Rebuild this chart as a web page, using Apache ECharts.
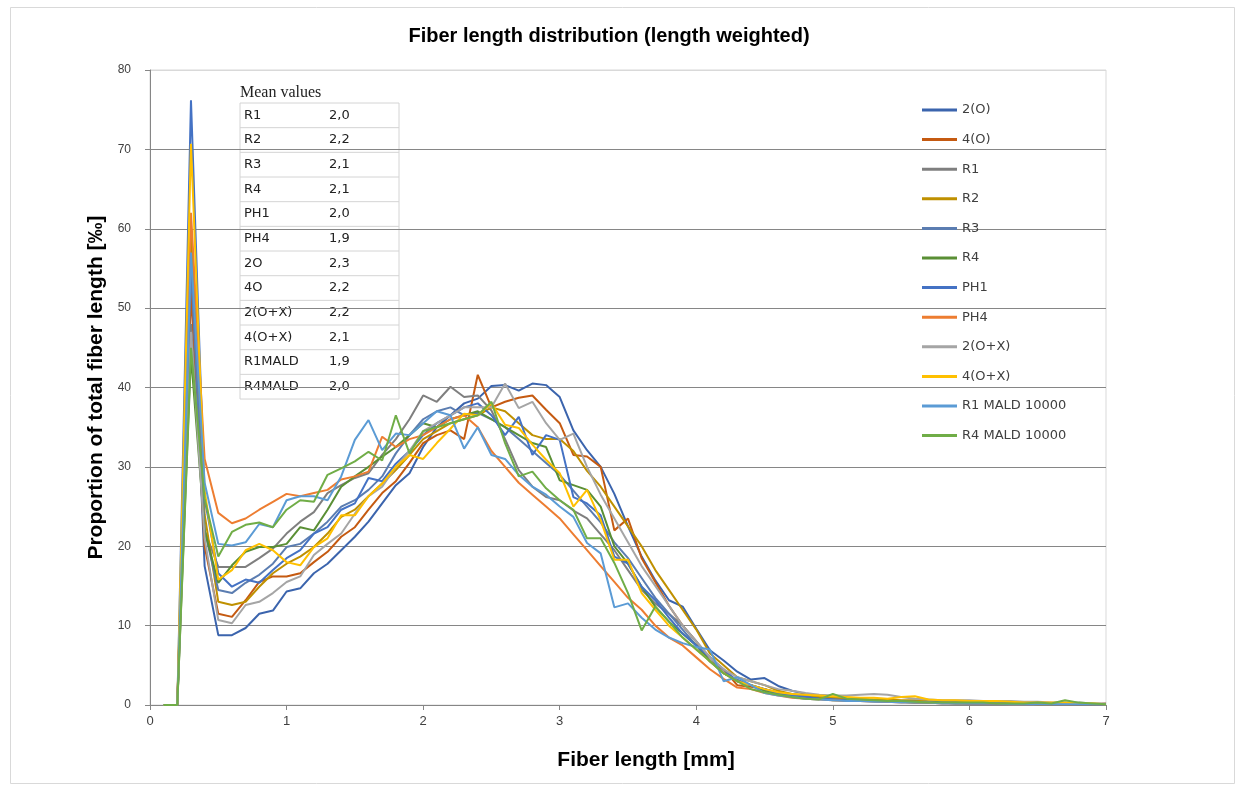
<!DOCTYPE html>
<html>
<head>
<meta charset="utf-8">
<script src="https://cdn.jsdelivr.net/npm/echarts@6/dist/echarts.min.js"></script>
<style>
  html, body { margin: 0; padding: 0; background: #fff; }
  #fiber_graph { width: 1241px; height: 787px; }
</style>
</head>
<body>
<div id="fiber_graph"></div>
<script>
// fiber length classes [mm]
const lengths = [
  0.1, 0.2, 0.3, 0.4, 0.5, 0.6, 0.7, 0.8, 0.9, 1.0,
  1.1, 1.2, 1.3, 1.4, 1.5, 1.6, 1.7, 1.8, 1.9, 2.0,
  2.1, 2.2, 2.3, 2.4, 2.5, 2.6, 2.7, 2.8, 2.9, 3.0,
  3.1, 3.2, 3.3, 3.4, 3.5, 3.6, 3.7, 3.8, 3.9, 4.0,
  4.1, 4.2, 4.3, 4.4, 4.5, 4.6, 4.7, 4.8, 4.9, 5.0,
  5.1, 5.2, 5.3, 5.4, 5.5, 5.6, 5.7, 5.8, 5.9, 6.0,
  6.1, 6.2, 6.3, 6.4, 6.5, 6.6, 6.7, 6.8, 6.9, 7.0
];

const s2O = [
  0, 0, 58, 17.5, 8.8, 8.8, 9.7, 11.5, 11.9, 14.3,
  14.7, 16.6, 17.8, 19.5, 21.2, 23.1, 25.4, 27.7, 29.2, 32.5,
  35.0, 36.5, 38.0, 38.6, 40.2, 40.3, 39.6, 40.5, 40.3, 38.8,
  34.6, 32.1, 30.0, 26.6, 22.5, 18.7, 15.7, 13.2, 12.4, 9.6,
  6.9, 5.6, 4.2, 3.2, 3.4, 2.4, 1.8, 1.4, 1.2, 1.0,
  0.8, 0.7, 0.6, 0.6, 0.5, 0.5, 0.4, 0.4, 0.4, 0.3,
  0.3, 0.3, 0.3, 0.2, 0.2, 0.2, 0.2, 0.1, 0.1, 0.1
];
const s4O = [
  0, 0, 52, 20, 11.5, 11.1, 13.2, 15.5, 16.2, 16.2,
  16.6, 18.0, 19.3, 21.2, 22.4, 24.6, 26.7, 28.2, 30.5, 33.0,
  34.0, 34.6, 33.5, 41.6, 37.5, 38.2, 38.7, 39.0, 37.2, 35.5,
  31.5, 31.3, 30.0, 22.0, 23.5, 18.5, 15.5, 12.5, 10.0, 8.0,
  5.5, 4.5, 2.5, 2.3, 2.0, 1.5, 1.2, 0.9, 0.8, 0.7,
  0.6, 0.5, 0.5, 0.4, 0.4, 0.3, 0.3, 0.3, 0.3, 0.2,
  0.2, 0.2, 0.2, 0.2, 0.1, 0.1, 0.1, 0.1, 0.1, 0.2
];
const sR1 = [
  0, 0, 48, 22, 17.4, 17.4, 17.4, 18.5, 19.7, 21.6,
  23.1, 24.3, 26.7, 27.7, 28.6, 29.2, 31.5, 33.5, 36.0, 39.0,
  38.2, 40.1, 38.8, 39.0, 37.1, 33.5, 29.6, 27.5, 26.2, 25.8,
  24.5, 23.5, 21.5, 19.5, 17.0, 14.5, 12.8, 11.5, 10.0, 8.0,
  6.0, 4.0, 3.0, 2.5, 2.0, 1.6, 1.3, 1.1, 0.9, 0.8,
  0.7, 0.7, 0.6, 0.6, 0.5, 0.5, 0.4, 0.4, 0.4, 0.3,
  0.3, 0.3, 0.3, 0.3, 0.2, 0.2, 0.2, 0.2, 0.1, 0.1
];
const sR2 = [
  0, 0, 60, 24, 13.0, 12.6, 13.0, 14.9, 16.6, 17.8,
  18.7, 19.9, 21.6, 23.7, 24.6, 26.3, 27.9, 29.6, 31.5, 33.5,
  34.5, 35.5, 36.0, 36.5, 37.5, 37.0, 35.5, 34.0, 33.5, 33.5,
  32.0, 29.5, 27.5, 25.0, 22.5, 20.0, 17.0, 14.5, 12.0, 9.5,
  6.5, 5.0, 3.5, 3.0, 2.5, 1.8, 1.4, 1.2, 1.0, 0.9,
  0.8, 0.8, 0.7, 0.7, 0.6, 0.6, 0.5, 0.5, 0.5, 0.4,
  0.4, 0.4, 0.3, 0.3, 0.3, 0.2, 0.2, 0.2, 0.2, 0.1
];
const sR3 = [
  0, 0, 55, 22, 14.5, 14.1, 15.4, 16.4, 17.8, 19.9,
  20.3, 21.6, 23.1, 25.0, 25.8, 27.1, 28.8, 31.7, 34.0, 36.0,
  37.0, 37.5, 36.5, 36.8, 36.0, 35.0, 33.5, 32.0, 30.5, 29.0,
  27.0, 25.0, 23.0, 20.5, 18.5, 16.0, 13.5, 11.5, 9.5, 7.5,
  5.5, 4.0, 3.2, 2.5, 2.0, 1.5, 1.2, 1.0, 0.8, 0.7,
  0.6, 0.5, 0.5, 0.4, 0.4, 0.3, 0.3, 0.3, 0.2, 0.2,
  0.2, 0.2, 0.2, 0.1, 0.1, 0.1, 0.1, 0.1, 0.1, 0.1
];
const sR4 = [
  0, 0, 44, 22, 15.4, 17.6, 19.3, 19.9, 19.9, 20.3,
  22.4, 22.0, 24.6, 27.5, 28.8, 30.0, 31.3, 32.5, 34.0, 35.5,
  35.0, 36.0, 36.5, 37.0, 36.0, 35.0, 34.0, 33.0, 32.5, 28.3,
  27.7, 27.1, 25.0, 20.0, 17.8, 14.9, 12.4, 10.5, 9.0, 7.5,
  5.5, 4.0, 3.0, 2.5, 1.8, 1.4, 1.1, 0.9, 0.8, 0.6,
  0.6, 0.5, 0.5, 0.4, 0.4, 0.3, 0.3, 0.3, 0.2, 0.2,
  0.2, 0.2, 0.2, 0.2, 0.1, 0.1, 0.1, 0.1, 0.1, 0.1
];
const sPH1 = [
  0, 0, 76.2, 26, 16.6, 14.9, 15.8, 15.4, 17.0, 18.5,
  19.5, 21.6, 22.4, 24.6, 25.4, 28.6, 28.2, 30.4, 32.0, 34.0,
  35.5, 36.5, 37.5, 38.0, 36.5, 34.0, 36.3, 31.5, 34.0, 33.4,
  26.2, 25.4, 23.9, 18.7, 17.8, 14.9, 13.2, 11.0, 9.0, 7.5,
  6.0, 4.5, 3.0, 2.5, 2.0, 1.5, 1.2, 1.0, 0.8, 0.7,
  0.6, 0.5, 0.5, 0.4, 0.4, 0.4, 0.3, 0.3, 0.3, 0.2,
  0.2, 0.2, 0.2, 0.2, 0.2, 0.1, 0.1, 0.1, 0.1, 0.1
];
const sPH4 = [
  0, 0, 62, 31, 24.2, 22.9, 23.5, 24.6, 25.6, 26.6,
  26.3, 26.7, 27.1, 28.4, 28.8, 29.4, 33.8, 32.5, 33.5, 34.0,
  35.0, 36.0, 36.5, 35.0, 32.0, 30.0, 28.0, 26.5, 25.0, 23.5,
  21.5, 19.5, 17.5, 15.5, 13.5, 12.0, 10.0, 8.5, 7.5, 6.0,
  4.5, 3.3, 2.2, 2.0, 1.5, 1.2, 0.9, 0.8, 0.7, 0.6,
  0.5, 0.5, 0.4, 0.4, 0.3, 0.3, 0.3, 0.2, 0.2, 0.2,
  0.2, 0.2, 0.1, 0.1, 0.1, 0.1, 0.1, 0.1, 0.1, 0.1
];
const s2OX = [
  0, 0, 47, 21, 10.7, 10.3, 12.6, 13.0, 14.1, 15.5,
  16.2, 18.9, 20.3, 21.6, 24.1, 26.3, 27.5, 30.0, 32.0, 34.5,
  35.5, 36.5, 37.5, 37.5, 37.5, 40.5, 37.4, 38.2, 35.5, 33.4,
  34.2, 30.0, 26.5, 23.5, 20.5, 17.5, 15.0, 12.5, 10.0, 8.0,
  6.0, 4.5, 3.5, 3.0, 2.5, 2.0, 1.8, 1.5, 1.3, 1.2,
  1.2, 1.3, 1.4, 1.3, 1.0, 0.8, 0.7, 0.6, 0.6, 0.6,
  0.5, 0.5, 0.5, 0.4, 0.4, 0.3, 0.3, 0.3, 0.2, 0.2
];
const s4OX = [
  0, 0, 70.7, 27, 15.8, 17.0, 19.5, 20.3, 19.5, 18.0,
  17.6, 19.9, 21.0, 23.9, 23.9, 26.3, 27.9, 30.0, 31.5, 31.0,
  33.0, 34.8, 36.7, 36.5, 38.0, 35.3, 34.9, 32.8, 30.9, 29.2,
  25.0, 27.1, 23.3, 18.3, 18.3, 14.1, 12.0, 10.0, 8.5, 7.0,
  5.5, 4.0, 3.0, 2.5, 2.0, 1.6, 1.4, 1.3, 1.2, 1.1,
  1.0, 0.9, 0.9, 0.8, 1.0, 1.1, 0.7, 0.6, 0.6, 0.5,
  0.5, 0.5, 0.4, 0.3, 0.3, 0.3, 0.3, 0.2, 0.2, 0.1
];
const sR1M = [
  0, 0, 57, 28, 20.3, 20.1, 20.5, 22.8, 22.4, 25.8,
  26.3, 26.3, 25.8, 28.8, 33.4, 35.9, 32.1, 34.2, 34.0, 35.5,
  37.0, 36.5, 32.3, 35.0, 31.5, 31.0, 29.0, 27.5, 26.5, 25.0,
  23.7, 20.4, 19.1, 12.3, 12.8, 11.0, 9.5, 8.5, 7.8, 7.3,
  7.0, 3.0, 3.5, 2.5, 1.5, 1.2, 1.0, 0.8, 0.7, 0.6,
  0.5, 0.5, 0.4, 0.4, 0.3, 0.3, 0.3, 0.2, 0.2, 0.2,
  0.2, 0.2, 0.1, 0.1, 0.1, 0.1, 0.1, 0.1, 0.1, 0.1
];
const sR4M = [
  0, 0, 45, 26, 18.7, 21.8, 22.7, 23.0, 22.4, 24.6,
  25.8, 25.6, 29.0, 29.8, 30.7, 31.9, 30.8, 36.5, 31.7, 34.5,
  35.0, 35.5, 36.0, 36.5, 38.2, 33.0, 28.8, 29.4, 27.3, 25.8,
  24.6, 21.0, 21.0, 17.9, 14.1, 9.4, 12.4, 10.5, 8.5, 7.0,
  5.5, 4.0, 3.0, 2.0, 1.6, 1.3, 1.0, 0.8, 0.7, 1.4,
  0.8, 0.7, 0.6, 0.5, 0.5, 0.4, 0.3, 0.3, 0.3, 0.3,
  0.3, 0.2, 0.2, 0.2, 0.3, 0.2, 0.6, 0.3, 0.2, 0.1
];

const seriesNames = ['2(O)', '4(O)', 'R1', 'R2', 'R3', 'R4', 'PH1', 'PH4',
  '2(O+X)', '4(O+X)', 'R1 MALD 10000', 'R4 MALD 10000'];
const seriesData = [s2O, s4O, sR1, sR2, sR3, sR4, sPH1, sPH4, s2OX, s4OX, sR1M, sR4M];
const seriesColors = ['#3B64AD', '#C55A11', '#7F7F7F', '#BF9000', '#5B7DB1', '#5A8F35',
  '#4472C4', '#ED7D31', '#A5A5A5', '#FFC000', '#5B9BD5', '#70AD47'];

// mean values table
const meanNames = ['R1', 'R2', 'R3', 'R4', 'PH1', 'PH4', '2O', '4O', '2(O+X)', '4(O+X)', 'R1MALD', 'R4MALD'];
const meanValues = ['2,0', '2,2', '2,1', '2,1', '2,0', '1,9', '2,3', '2,2', '2,2', '2,1', '1,9', '2,0'];

const yTicks = [0, 10, 20, 30, 40, 50, 60, 70, 80];

var fiberGraph = function () {
    let chart = null;

    function tableGraphic() {
        let x0 = 240, y0 = 103, w = 159, rowH = 24.67;
        let elems = [];
        elems.push({
            type: 'text', x: x0, y: y0 - 10,
            style: {text: 'Mean values', font: '16px "Liberation Serif", serif', fill: '#222', verticalAlign: 'middle'}
        });
        elems.push({
            type: 'rect', shape: {x: x0, y: y0, width: w, height: rowH * meanNames.length},
            style: {fill: '#fff', stroke: '#d4d4d4', lineWidth: 1}
        });
        for (let i = 0; i < meanNames.length; i++) {
            let y = y0 + i * rowH;
            if (i > 0) {
                elems.push({
                    type: 'line', shape: {x1: x0, y1: y, x2: x0 + w, y2: y},
                    style: {stroke: '#d4d4d4', lineWidth: 1}
                });
            }
            elems.push({
                type: 'text', x: x0 + 4, y: y + rowH / 2,
                style: {text: meanNames[i], font: '13px "DejaVu Sans"', fill: '#222', verticalAlign: 'middle'}
            });
            elems.push({
                type: 'text', x: x0 + 89, y: y + rowH / 2,
                style: {text: meanValues[i], font: '13px "DejaVu Sans"', fill: '#222', verticalAlign: 'middle'}
            });
        }
        return {type: 'group', z: 10, children: elems};
    }

    function init() {
        chart = echarts.init(document.getElementById('fiber_graph'));
        let series = [];
        for (let i = 0; i < seriesNames.length; i++) {
            series.push({
                name: seriesNames[i],
                type: 'line',
                symbol: 'none',
                color: seriesColors[i],
                lineStyle: {width: 2, color: seriesColors[i]},
                data: lengths.map((x, k) => [x, seriesData[i][k]]),
                animation: false
            });
        }
        let boldFont = '"Liberation Sans Narrow", "Liberation Sans", sans-serif';
        let option = {
            backgroundColor: '#fff',
            title: {
                text: 'Fiber length distribution (length weighted)',
                left: 604, top: 21, textAlign: 'center',
                textStyle: {fontSize: 20, fontWeight: 'bold', color: '#000', fontFamily: boldFont}
            },
            grid: {left: 150, right: 135, top: 70, bottom: 82, show: true,
                borderColor: '#d9d9d9', borderWidth: 1, backgroundColor: 'transparent'},
            legend: {
                orient: 'vertical', left: 922, top: 102, padding: 0,
                icon: 'rect', itemWidth: 35, itemHeight: 3, itemGap: 13.6,
                textStyle: {fontSize: 13, color: '#404040', fontFamily: '"DejaVu Sans"', lineHeight: 16},
                data: seriesNames
            },
            xAxis: {
                type: 'value', min: 0, max: 7, interval: 1,
                name: 'Fiber length [mm]', nameLocation: 'middle', nameGap: 45,
                nameTextStyle: {fontSize: 21, fontWeight: 'bold', color: '#000', fontFamily: boldFont,
                    padding: [0, 0, 0, 36]},
                axisLine: {lineStyle: {color: '#868686'}},
                axisTick: {show: true, length: 5, lineStyle: {color: '#868686'}},
                axisLabel: {fontSize: 13, color: '#404040', margin: 10, fontFamily: boldFont},
                splitLine: {show: false}
            },
            yAxis: {
                type: 'value', min: yTicks[0], max: yTicks[yTicks.length - 1], interval: 10,
                name: 'Proportion of total fiber length [‰]', nameLocation: 'middle', nameGap: 38,
                nameTextStyle: {fontSize: 21, fontWeight: 'bold', color: '#000', fontFamily: boldFont},
                axisLine: {show: true, lineStyle: {color: '#868686'}},
                axisTick: {show: true, length: 5, lineStyle: {color: '#868686'}},
                axisLabel: {fontSize: 12, color: '#404040', margin: 19, fontFamily: '"Liberation Sans"'},
                splitLine: {show: true, lineStyle: {color: ['#868686', '#868686', '#868686', '#868686',
                    '#868686', '#868686', '#868686', '#868686', '#d9d9d9'], width: 1}}
            },
            graphic: [
                {type: 'rect', left: 8, top: 5, shape: {width: 1224, height: 776},
                    style: {fill: 'none', stroke: '#d9d9d9', lineWidth: 1}, z: -1},
                tableGraphic()
            ],
            series: series
        };
        chart.setOption(option);
    }

    init();
    return {"init": init};
}();
</script>
</body>
</html>
